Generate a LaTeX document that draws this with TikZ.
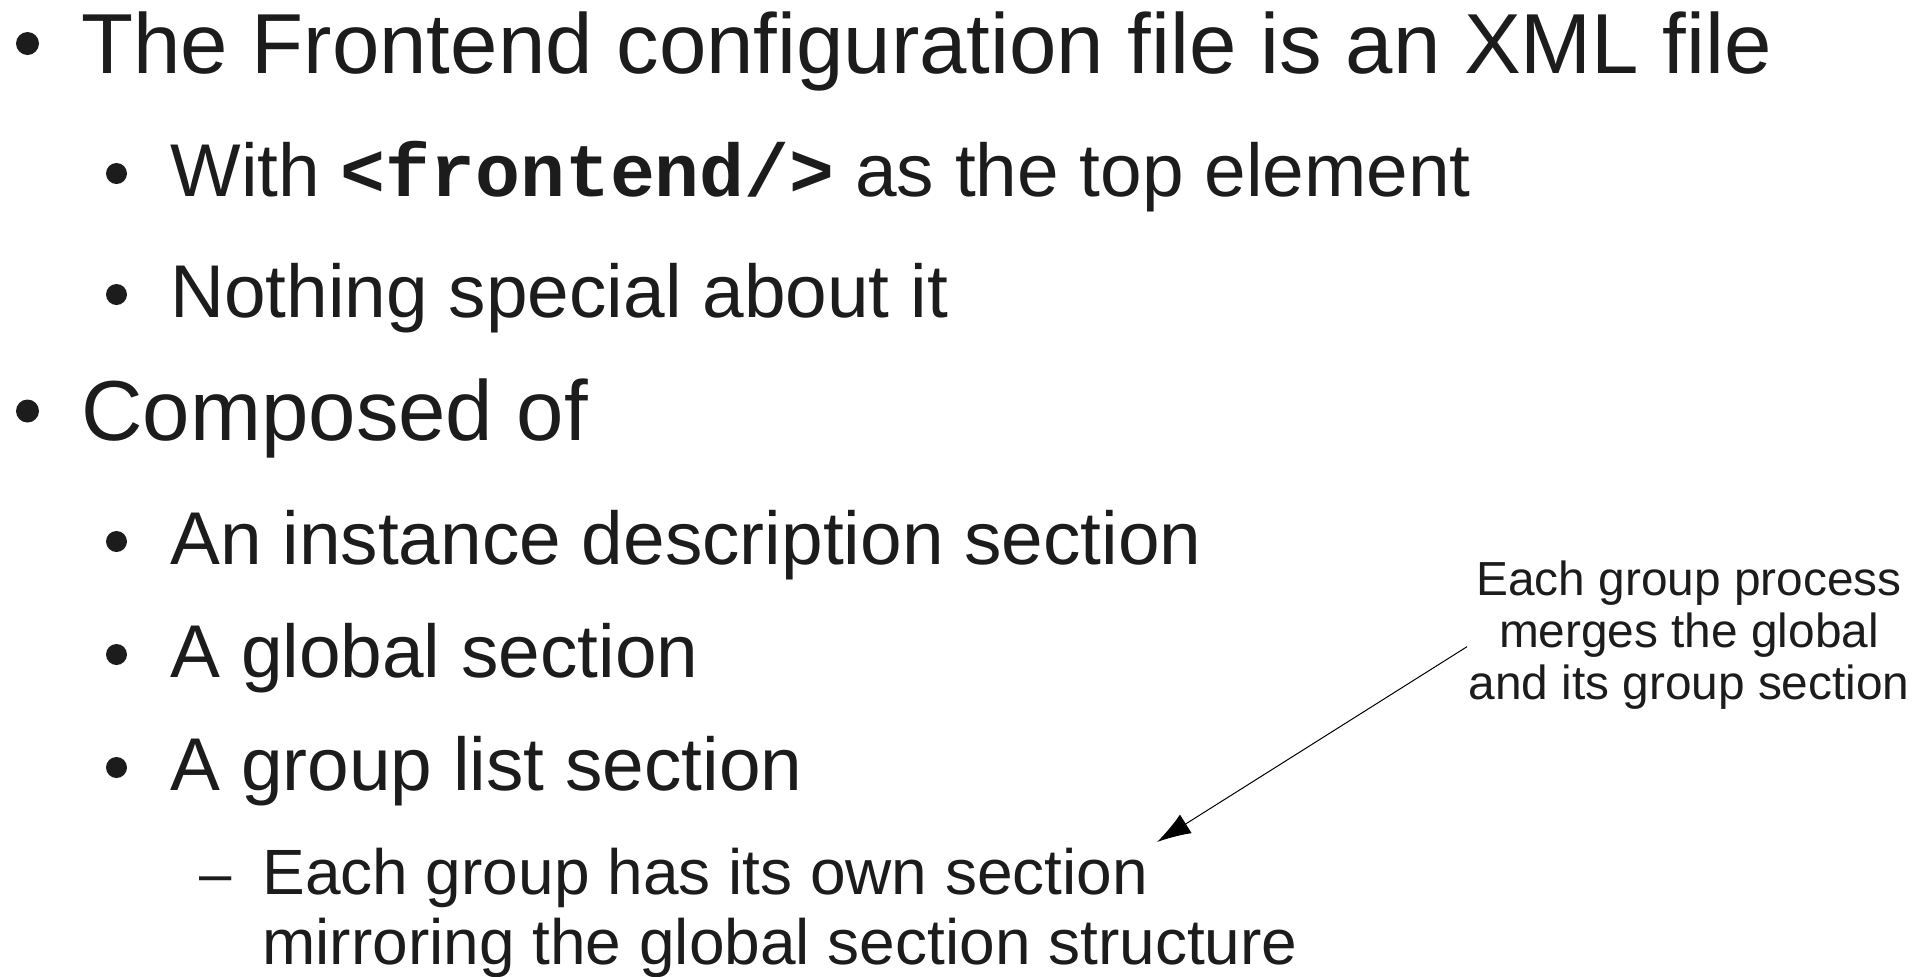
\documentclass[tikz,border=0pt]{standalone}
\usepackage{fontspec}
\setmainfont{Liberation Sans}
\setmonofont{Liberation Mono}
\usetikzlibrary{arrows.meta}
\definecolor{ink}{HTML}{1C1C1C}
\begin{document}
\begin{tikzpicture}[x=0.5pt,y=-0.5pt,
 lvlone/.style={anchor=base west,inner sep=0pt,text=ink,font=\fontsize{42.6}{50}\selectfont},
 lvltwo/.style={anchor=base west,inner sep=0pt,text=ink,font=\fontsize{37.4}{44}\selectfont},
 lvlthree/.style={anchor=base west,inner sep=0pt,text=ink,font=\fontsize{32}{38}\selectfont},
 note/.style={anchor=base,align=center,inner sep=0pt,text=ink,font=\fontsize{23.9}{26}\selectfont},
 bigdot/.style={circle,fill=ink,inner sep=0pt,minimum size=11.5pt},
 smalldot/.style={circle,fill=ink,inner sep=0pt,minimum size=10.5pt}]
 \useasboundingbox (0,0) rectangle (1930,976);

 \node [bigdot] (b1) at (27.5,43.5) {};
 \node [lvlone] (intro) at (81,73) {The Frontend configuration file is an XML file};
 \node [smalldot] (b2) at (116.5,173.5) {};
 \node [lvltwo] (top) at (170,196) {With \textbf{\texttt{<frontend/>}} as the top element};
 \node [smalldot] (b3) at (116.5,294.5) {};
 \node [lvltwo] (plain) at (170,317) {Nothing special about it};

 \node [bigdot] (b4) at (27.5,411) {};
 \node [lvlone] (parts) at (81,440) {Composed of};
 \node [smalldot] (b5) at (116.5,541.5) {};
 \node [lvltwo] (inst) at (170,564) {An instance description section};
 \node [smalldot] (b6) at (116.5,654.5) {};
 \node [lvltwo] (glob) at (170,677) {A global section};
 \node [smalldot] (b7) at (116.5,767.5) {};
 \node [lvltwo] (grp) at (170,790) {A group list section};
 \node [lvlthree,font=\fontsize{29}{35}\selectfont] (dash) at (199,893) {–};
 \node [lvlthree] (own) at (262,894) {Each group has its own section};
 \node [lvlthree] (mirror) at (262,964) {mirroring the global section structure};

 % base of a multi-line node is its last line
 \node [note] (merge) at (1689,699) {Each group process\\merges the global\\and its group section};
 \coordinate (tip) at (1157,842);
 \draw [line width=0.5pt,-{Latex[length=17pt,width=11pt]}] ([shift={(-1,12)}]merge.west) -- (tip);
\end{tikzpicture}
\end{document}
